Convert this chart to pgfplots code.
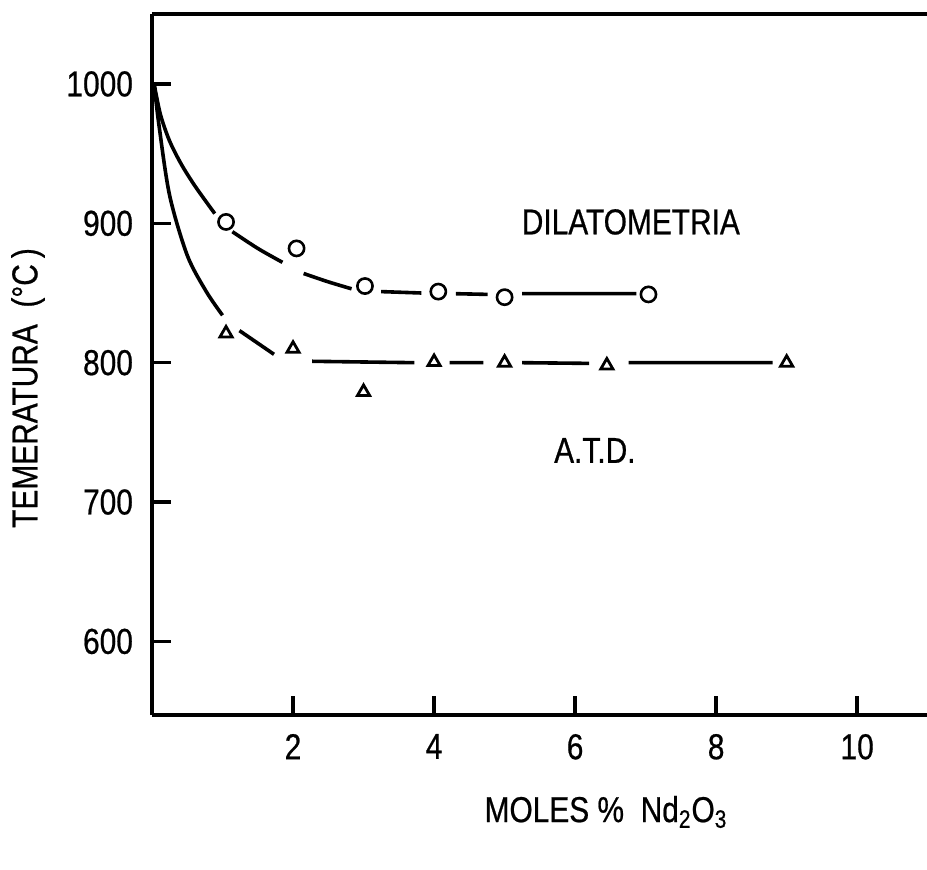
\documentclass[border=0pt]{standalone}
\usepackage{fontspec}
\setmainfont{Liberation Sans}[FakeStretch=0.83, FakeBold=0.6]
\usepackage{pgfplots}
\pgfplotsset{compat=1.18}
\begin{document}
\begin{tikzpicture}
\useasboundingbox (0,0) rectangle (463.5pt,434.5pt);
\begin{axis}[
  at={(76pt,77pt)}, anchor=south west,
  scale only axis, width=387.5pt, height=350.5pt,
  xmin=0, xmax=10.99, ymin=547.2, ymax=1050.2,
  axis x line=box, axis y line=left,
  axis line style={-, line width=1.8pt},
  xtick={2,4,6,8,10}, ytick={600,700,800,900,1000},
  xtick pos=left, ytick pos=left,
  tick align=inside, major tick length=9.5pt,
  tick style={line width=1.7pt, black},
  ticklabel style={font=\fontsize{18}{21}\selectfont},
  /pgf/number format/assume math mode=true,
  /pgf/number format/1000 sep={},
  xticklabel style={yshift=-6pt},
  yticklabel style={xshift=-6pt},
  unbounded coords=jump,
  clip=false,
]
% DILATOMETRIA curve (broken at the markers)
\addplot[black, line width=1.8pt, smooth] coordinates {
 (0.03,1000) (0.12,978) (0.25,959) (0.42,942) (0.62,926) (0.89,907)
 (1.0,nan)
 (1.14,894) (1.5,882) (1.85,872)
 (2.0,nan)
 (2.15,864) (2.5,858) (2.83,853)
 (3.0,nan)
 (3.25,851) (3.82,850)
 (4.0,nan)
 (4.31,849.5) (4.76,849)
 (5.0,nan)
 (5.25,849.5) (6.87,849.5)
};
% A.T.D. curve (broken at the markers)
\addplot[black, line width=1.8pt, smooth] coordinates {
 (0.03,1000) (0.1,970) (0.25,920) (0.5,877) (0.77,851) (1.0,834)
 (1.1,nan)
 (1.24,823) (1.73,806)
 (2.0,nan)
 (2.27,801) (3.72,800)
 (4.0,nan)
 (4.22,800) (4.7,800)
 (5.0,nan)
 (5.25,800) (6.2,799.5)
 (6.5,nan)
 (6.76,800) (8.8,800)
};
% DILATOMETRIA data
\addplot[only marks, mark=o, mark size=3.8pt, mark options={line width=1.3pt, black, fill=white}] coordinates {
 (1.05,901) (2.05,882) (3.02,855) (4.06,851) (5.0,847) (7.04,849)
};
% A.T.D. data
\addplot[only marks, mark=triangle, mark size=3.5pt, mark options={line width=1.4pt, black, fill=white}] coordinates {
 (1.05,821) (2.0,810) (3.0,779) (4.0,800.5) (5.0,800) (6.45,798) (9.0,800)
};
\node[font=\fontsize{18}{21}\selectfont] at (axis cs:6.79,901) {DILATOMETRIA};
\node[font=\fontsize{18}{21}\selectfont] at (axis cs:6.28,737) {A.T.D.};
\end{axis}
\node[rotate=90, font=\fontsize{18}{21}\selectfont] at (14pt,240.5pt) {TEMERATURA\ \ (°C\,)};
\node[font=\fontsize{18}{21}\selectfont] at (303pt,28.5pt) {MOLES \%\ \ Nd\textsubscript{2}O\textsubscript{3}};
\end{tikzpicture}
\end{document}
